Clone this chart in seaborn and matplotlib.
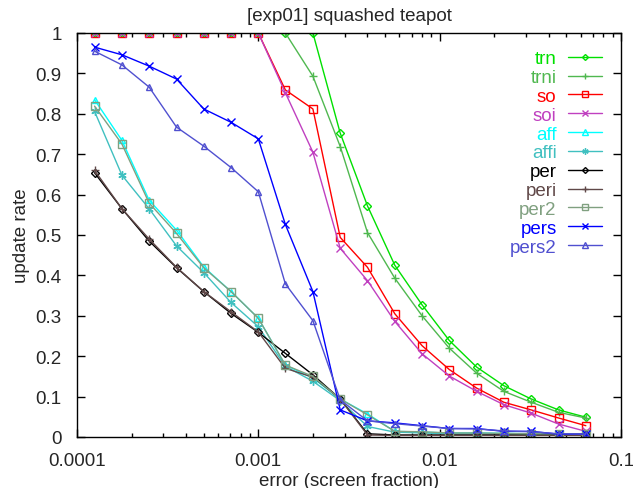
import matplotlib
matplotlib.use("Agg")
import matplotlib.pyplot as plt
import seaborn as sns
import numpy as np
import pandas as pd

sns.set_style("ticks")
plt.rcParams['font.family'] = ['Liberation Sans', 'DejaVu Sans']

x = [0.000125, 0.000177, 0.00025, 0.000354, 0.0005, 0.000707, 0.001, 0.00141,
     0.002, 0.00283, 0.004, 0.00566, 0.008, 0.0113, 0.016, 0.0226, 0.032, 0.0453, 0.064]

trn = [1, 1, 1, 1, 1, 1, 1, 1, 1, 0.752, 0.572, 0.425, 0.327, 0.239, 0.173, 0.127, 0.094, 0.067, 0.049]
trni = [1, 1, 1, 1, 1, 1, 1, 1, 0.893, 0.719, 0.506, 0.393, 0.300, 0.220, 0.158, 0.113, 0.086, 0.061, 0.047]
so = [1, 1, 1, 1, 1, 1, 1, 0.859, 0.812, 0.494, 0.420, 0.305, 0.226, 0.167, 0.121, 0.086, 0.067, 0.047, 0.028]
soi = [1, 1, 1, 1, 1, 1, 1, 0.852, 0.705, 0.467, 0.387, 0.286, 0.206, 0.151, 0.113, 0.080, 0.059, 0.032, 0.014]
aff = [0.835, 0.734, 0.586, 0.512, 0.421, 0.360, 0.294, 0.178, 0.146, 0.094, 0.057, 0.014, 0.012, 0.010, 0.010, 0.009, 0.008, 0.008, 0.008]
affi = [0.806, 0.648, 0.565, 0.473, 0.407, 0.333, 0.273, 0.175, 0.138, 0.090, 0.026, 0.012, 0.010, 0.008, 0.008, 0.008, 0.007, 0.007, 0.007]
per = [0.654, 0.565, 0.485, 0.419, 0.360, 0.306, 0.259, 0.207, 0.154, 0.094, 0.008, 0.005, 0.005, 0.005, 0.005, 0.005, 0.005, 0.005, 0.005]
peri = [0.660, 0.565, 0.490, 0.420, 0.360, 0.310, 0.260, 0.170, 0.148, 0.094, 0.005, 0.004, 0.004, 0.004, 0.004, 0.004, 0.004, 0.004, 0.004]
per2 = [0.819, 0.725, 0.579, 0.504, 0.419, 0.360, 0.294, 0.178, 0.150, 0.094, 0.055, 0.014, 0.013, 0.010, 0.010, 0.009, 0.008, 0.008, 0.008]
pers = [0.965, 0.946, 0.918, 0.886, 0.812, 0.779, 0.738, 0.526, 0.360, 0.067, 0.040, 0.035, 0.028, 0.021, 0.021, 0.014, 0.014, 0.007, 0.007]
pers2 = [0.955, 0.921, 0.866, 0.767, 0.720, 0.667, 0.607, 0.379, 0.288, 0.092, 0.040, 0.033, 0.027, 0.021, 0.020, 0.015, 0.013, 0.008, 0.007]

names = ["trn", "trni", "so", "soi", "aff", "affi", "per", "peri", "per2", "pers", "pers2"]
series = [trn, trni, so, soi, aff, affi, per, peri, per2, pers, pers2]
colors = ["#00e000", "#50b850", "#ff0000", "#c040c0", "#00ffff", "#40c0c0",
          "#000000", "#604848", "#80a080", "#0000ff", "#5050d0"]
markers = ["D", "+", "s", "x", "^", (6, 2, 0), "D", "+", "s", "x", "^"]
msizes = [4, 6, 6, 5.5, 5, 6, 4, 6, 6, 5.5, 5]
filled = [False, True, False, True, False, True, False, True, False, True, False]

FS = 13.5

fig = plt.figure(figsize=(6.33, 4.89), dpi=100)
ax = fig.add_axes([0.1216, 0.1043, 0.8594, 0.8262])

for name, ys, c, m, ms, f in zip(names, series, colors, markers, msizes, filled):
    df = pd.DataFrame({"x": x, "y": ys})
    kw = dict(markerfacecolor="none", markeredgecolor=c) if not f else dict(markeredgecolor=c)
    sns.lineplot(data=df, x="x", y="y", ax=ax, color=c, marker=m, markersize=ms,
                 linewidth=1.0, markeredgewidth=1.0, label=name, **kw)

ax.set_xscale("log")
ax.set_xlim(0.0001, 0.1)
ax.set_ylim(0, 1)
ax.set_xticks([0.0001, 0.001, 0.01, 0.1])
ax.set_xticklabels(["0.0001", "0.001", "0.01", "0.1"])
yt = [0, 0.1, 0.2, 0.3, 0.4, 0.5, 0.6, 0.7, 0.8, 0.9, 1]
ax.set_yticks(yt)
ax.set_yticklabels(["0", "0.1", "0.2", "0.3", "0.4", "0.5", "0.6", "0.7", "0.8", "0.9", "1"])
ax.tick_params(axis="both", which="both", direction="in", top=True, right=True,
               labelsize=FS, color="black")
ax.tick_params(axis="x", which="both", pad=11)
ax.tick_params(axis="y", which="both", pad=11)
ax.tick_params(which="major", length=6, width=1)
ax.tick_params(which="minor", length=3, width=1)
for s in ax.spines.values():
    s.set_linewidth(1.0)
    s.set_color("black")

ax.set_xlabel("error (screen fraction)", fontsize=FS, labelpad=2)
ax.set_ylabel("update rate", fontsize=FS, labelpad=4)
ax.set_title("[exp01] squashed teapot", fontsize=FS, pad=9)

leg = ax.legend(loc="upper right", bbox_to_anchor=(0.985, 0.985), frameon=False,
                markerfirst=False, fontsize=FS, handlelength=1.8, handletextpad=0.6,
                labelspacing=0.09, borderpad=0.1, markerscale=0.75)
for t, c in zip(leg.get_texts(), colors):
    t.set_color(c)
    t.set_ha("right")
for h in leg._legend_box._children[-1]._children:
    h.align = "right"

fig.savefig("out.png", dpi=100)
